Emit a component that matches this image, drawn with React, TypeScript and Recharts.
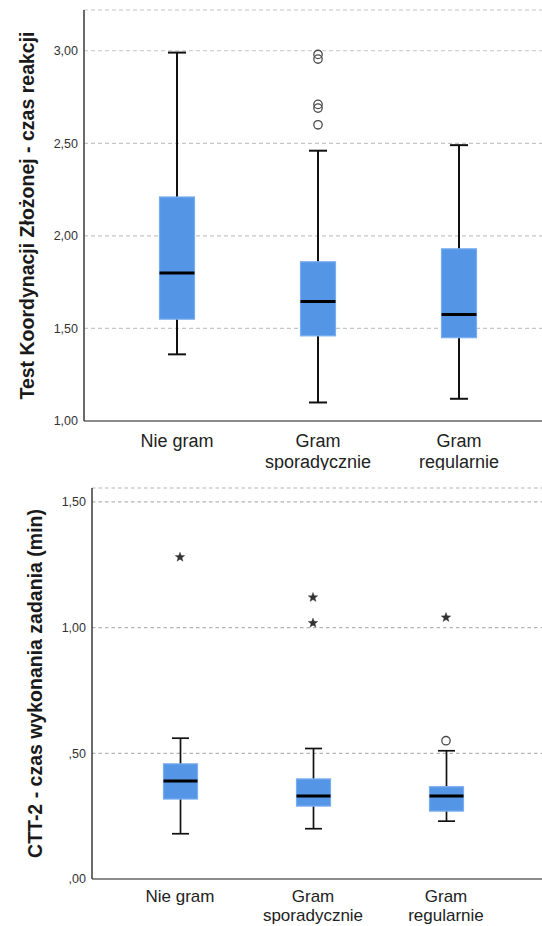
import React from 'react';
import { ComposedChart, Bar, Scatter, XAxis, YAxis, CartesianGrid } from 'recharts';

// Groups shown along the horizontal axis
const categories = ['Nie gram', 'Gram sporadycznie', 'Gram regularnie'];
const categoryLines = [['Nie gram'], ['Gram', 'sporadycznie'], ['Gram', 'regularnie']];

// Test Koordynacji Złożonej - czas reakcji (five-number summary per group)
const reactMin = [1.36, 1.1, 1.12];
const reactQ1 = [1.55, 1.46, 1.45];
const reactMedian = [1.8, 1.645, 1.575];
const reactQ3 = [2.21, 1.86, 1.93];
const reactMax = [2.99, 2.46, 2.49];
const reactOutlierGroup = [1, 1, 1, 1, 1];
const reactOutlierValue = [2.98, 2.955, 2.71, 2.69, 2.6];
const reactExtremeGroup: number[] = [];
const reactExtremeValue: number[] = [];
const reactTicks = [1, 1.5, 2, 2.5, 3];

// CTT-2 - czas wykonania zadania (min)
const cttMin = [0.18, 0.2, 0.23];
const cttQ1 = [0.318, 0.29, 0.27];
const cttMedian = [0.39, 0.33, 0.33];
const cttQ3 = [0.458, 0.398, 0.367];
const cttMax = [0.56, 0.519, 0.51];
const cttOutlierGroup = [2];
const cttOutlierValue = [0.55];
const cttExtremeGroup = [0, 1, 1, 2];
const cttExtremeValue = [1.28, 1.12, 1.018, 1.04];
const cttTicks = [0, 0.5, 1, 1.5];

const FONT = '"Liberation Sans", Arial, sans-serif';
const BOX_FILL = '#5595e5';
const BOX_EDGE = '#79adf0';

type Summary = {
  min: number[];
  q1: number[];
  median: number[];
  q3: number[];
  max: number[];
  outlierGroup: number[];
  outlierValue: number[];
  extremeGroup: number[];
  extremeValue: number[];
};

function buildRows(s: Summary) {
  return categories.map((name, i) => ({
    x: i + 1,
    name,
    range: [s.min[i], s.max[i]],
    q1: s.q1[i],
    median: s.median[i],
    q3: s.q3[i],
  }));
}

function buildPoints(groups: number[], values: number[], kind: string) {
  return groups.map((g, i) => ({ x: g + 1, value: values[i], kind }));
}

const formatTick = (v: number) => {
  const s = v.toFixed(2).replace('.', ',');
  return s.startsWith('0') ? s.slice(1) : s;
};

function makeBoxShape(capWidth: number, whiskerWidth: number) {
  return (props: any) => {
    const { x, y, width, height, payload } = props;
    if (x == null || y == null || !payload) return null;
    const [lo, hi] = payload.range;
    const top = Math.min(y, y + height);
    const bottom = Math.max(y, y + height);
    // linear position inside the whisker span, which the y scale already placed
    const toPx = (v: number) => top + ((hi - v) / (hi - lo)) * (bottom - top);
    const cx = x + width / 2;
    const yQ1 = toPx(payload.q1);
    const yQ3 = toPx(payload.q3);
    const yMed = toPx(payload.median);
    return (
      <g>
        <line x1={cx} x2={cx} y1={top} y2={bottom} stroke="#111" strokeWidth={whiskerWidth} />
        <line x1={cx - capWidth / 2} x2={cx + capWidth / 2} y1={top} y2={top} stroke="#111" strokeWidth={whiskerWidth} />
        <line x1={cx - capWidth / 2} x2={cx + capWidth / 2} y1={bottom} y2={bottom} stroke="#111" strokeWidth={whiskerWidth} />
        <rect x={x} y={yQ3} width={width} height={yQ1 - yQ3} fill={BOX_FILL} stroke={BOX_EDGE} strokeWidth={1.2} />
        <line x1={x} x2={x + width} y1={yMed} y2={yMed} stroke="#000" strokeWidth={3} />
      </g>
    );
  };
}

const OutlierShape = (props: any) => {
  const { cx, cy, payload } = props;
  if (cx == null || cy == null) return null;
  if (payload && payload.kind === 'extreme') {
    const pts: string[] = [];
    for (let k = 0; k < 10; k++) {
      const r = k % 2 === 0 ? 5 : 2.1;
      const a = -Math.PI / 2 + (k * Math.PI) / 5;
      pts.push(`${(cx + r * Math.cos(a)).toFixed(2)},${(cy + r * Math.sin(a)).toFixed(2)}`);
    }
    return <polygon points={pts.join(' ')} fill="#333" stroke="#333" strokeWidth={0.4} />;
  }
  return <circle cx={cx} cy={cy} r={4.2} fill="none" stroke="#4a4a4a" strokeWidth={1.3} />;
};

function makeCategoryTick(firstLine: number, lineGap: number, fontSize: number) {
  return (props: any) => {
    const { x, y, payload } = props;
    const idx = Math.round(payload.value) - 1;
    const lines = categoryLines[idx] || [];
    return (
      <text
        x={x}
        y={y + firstLine}
        textAnchor="middle"
        fontFamily={FONT}
        fontSize={fontSize}
        fill="#222"
      >
        {lines.map((t, i) => (
          <tspan key={i} x={x} dy={i === 0 ? 0 : lineGap}>
            {t}
          </tspan>
        ))}
      </text>
    );
  };
}

const AxisTitle = (props: any) => {
  const { viewBox, text, offsetX } = props;
  if (!viewBox) return null;
  const cx = viewBox.x + offsetX;
  const cy = viewBox.y + viewBox.height / 2;
  return (
    <text
      x={cx}
      y={cy}
      textAnchor="middle"
      dominantBaseline="central"
      transform={`rotate(-90, ${cx}, ${cy})`}
      fontFamily={FONT}
      fontWeight="bold"
      fontSize={19.5}
      fill="#1a1a1a"
    >
      {text}
    </text>
  );
};

type PanelProps = {
  summary: Summary;
  ticks: number[];
  domain: [number, number];
  title: string;
  width: number;
  height: number;
  top: number;
  axisWidth: number;
  xAxisHeight: number;
  padLeft: number;
  padRight: number;
  titleX: number;
  whiskerWidth: number;
  boxWidth: number;
  capWidth: number;
  gridColor: string;
  gridDash: string;
  labelFirst: number;
  labelGap: number;
  labelSize: number;
};

function BoxPanel(p: PanelProps) {
  const rows = buildRows(p.summary);
  const outliers = buildPoints(p.summary.outlierGroup, p.summary.outlierValue, 'outlier');
  const extremes = buildPoints(p.summary.extremeGroup, p.summary.extremeValue, 'extreme');
  const Tick = makeCategoryTick(p.labelFirst, p.labelGap, p.labelSize);
  return (
    <ComposedChart
      width={p.width}
      height={p.height}
      data={rows}
      margin={{ top: p.top, right: 0, bottom: 0, left: 0 }}
    >
      <CartesianGrid vertical={false} stroke={p.gridColor} strokeDasharray={p.gridDash} strokeWidth={1.2} />
      <XAxis
        type="number"
        dataKey="x"
        domain={[1, 3]}
        ticks={[1, 2, 3]}
        padding={{ left: p.padLeft, right: p.padRight }}
        height={p.xAxisHeight}
        tickSize={0}
        tickMargin={0}
        tickLine={false}
        axisLine={{ stroke: '#8c8c8c', strokeWidth: 2 }}
        tick={<Tick />}
        interval={0}
      />
      <YAxis
        type="number"
        domain={p.domain}
        ticks={p.ticks}
        width={p.axisWidth}
        tickSize={0}
        tickMargin={6}
        tickLine={false}
        axisLine={{ stroke: '#3a3a3a', strokeWidth: 1.5 }}
        tickFormatter={formatTick}
        tick={{ fill: '#333', fontSize: 12.5, fontFamily: FONT }}
        allowDataOverflow
        label={<AxisTitle text={p.title} offsetX={p.titleX} />}
      />
      <Bar
        dataKey="range"
        barSize={p.boxWidth}
        isAnimationActive={false}
        shape={makeBoxShape(p.capWidth, p.whiskerWidth)}
      />
      <Scatter data={outliers} dataKey="value" isAnimationActive={false} shape={<OutlierShape />} />
      <Scatter data={extremes} dataKey="value" isAnimationActive={false} shape={<OutlierShape />} />
    </ComposedChart>
  );
}

const reactSummary: Summary = {
  min: reactMin,
  q1: reactQ1,
  median: reactMedian,
  q3: reactQ3,
  max: reactMax,
  outlierGroup: reactOutlierGroup,
  outlierValue: reactOutlierValue,
  extremeGroup: reactExtremeGroup,
  extremeValue: reactExtremeValue,
};

const cttSummary: Summary = {
  min: cttMin,
  q1: cttQ1,
  median: cttMedian,
  q3: cttQ3,
  max: cttMax,
  outlierGroup: cttOutlierGroup,
  outlierValue: cttOutlierValue,
  extremeGroup: cttExtremeGroup,
  extremeValue: cttExtremeValue,
};

export default function App() {
  return (
    <div style={{ position: 'absolute', left: 0, top: 0, width: 542, height: 926, background: '#fff' }}>
      <BoxPanel
        summary={reactSummary}
        ticks={reactTicks}
        domain={[1, 3.22]}
        title="Test Koordynacji Złożonej - czas reakcji"
        width={542}
        height={470}
        top={10}
        axisWidth={84}
        xAxisHeight={49}
        padLeft={93}
        padRight={83}
        titleX={27}
        whiskerWidth={2}
        boxWidth={35}
        capWidth={18}
        gridColor="#c6c6c6"
        gridDash="4 3"
        labelFirst={26}
        labelGap={20.5}
        labelSize={18}
      />
      <BoxPanel
        summary={cttSummary}
        ticks={cttTicks}
        domain={[0, 1.555]}
        title="CTT-2 - czas wykonania zadania (min)"
        width={542}
        height={456}
        top={18}
        axisWidth={92}
        xAxisHeight={47}
        padLeft={88}
        padRight={96}
        titleX={35}
        whiskerWidth={1.7}
        boxWidth={34}
        capWidth={17}
        gridColor="#b4b4b4"
        gridDash="3.5 3"
        labelFirst={22.5}
        labelGap={19.6}
        labelSize={17}
      />
    </div>
  );
}
